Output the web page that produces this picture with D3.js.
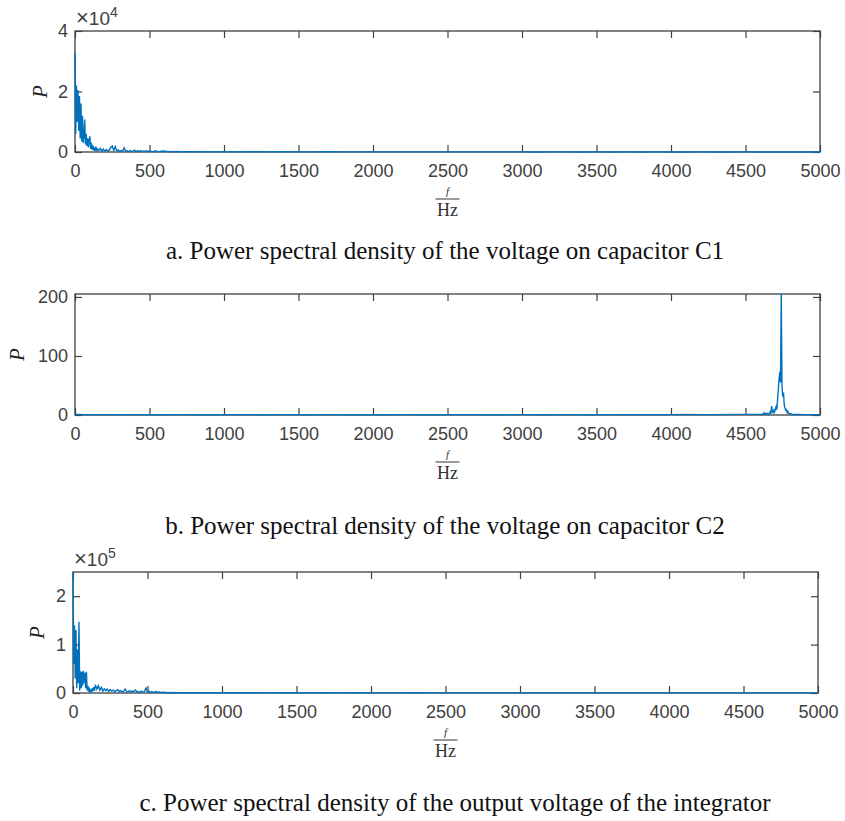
<!DOCTYPE html>
<html>
<head>
<meta charset="utf-8">
<script src="https://cdn.jsdelivr.net/npm/d3@7"></script>
<style>
  body { margin: 0; background: #fff; }
  .tick text { font-family: "Liberation Sans", Arial, sans-serif; font-size: 18px; fill: #404040; }
  .tick line { stroke: #404040; stroke-width: 1.2; }
  .caption { font-family: "Liberation Serif", "Times New Roman", serif; font-size: 25px; fill: #111; }
</style>
</head>
<body>
<svg id="fig" width="845" height="821"></svg>
<script>
// x ticks shared by all three panels
const freqTicks = [0, 500, 1000, 1500, 2000, 2500, 3000, 3500, 4000, 4500, 5000];

// a. voltage on C1, values in units of 1e4
// low band: 0..150 Hz every 5 Hz
const c1Low = [3.27, 0.6, 2.2, 1.0, 2.05, 0.7, 1.85, 0.45, 1.6, 0.35, 1.2, 0.3, 0.55, 1.07, 0.25, 0.6,
  0.2, 0.45, 0.15, 0.4, 0.52, 0.1, 0.3, 0.08, 0.22, 0.05, 0.15, 0.04, 0.18, 0.03, 0.1];
// mid band: 160..700 Hz every 10 Hz
const c1Mid = [0.05, 0.12, 0.03, 0.1, 0.02, 0.08, 0.03, 0.06, 0.15, 0.2, 0.05, 0.18, 0.04, 0.07, 0.02,
  0.05, 0.03, 0.14, 0.02, 0.04, 0.01, 0.05, 0.02, 0.03, 0.06, 0.01, 0.04, 0.02, 0.05, 0.01, 0.03, 0.02,
  0.04, 0.01, 0.03, 0.02, 0.01, 0.02, 0.05, 0.01, 0.02, 0.01, 0.03, 0.01, 0.04, 0.01, 0.02, 0.01, 0.01,
  0.02, 0.01, 0.01, 0.02, 0.01, 0.01];
// tail: 800..5000 Hz every 100 Hz
const c1Tail = [0.01, 0.005, 0.01, 0.005, 0.008, 0.005, 0.006, 0.004, 0.005, 0.006, 0.004, 0.005, 0.003,
  0.005, 0.004, 0.003, 0.005, 0.004, 0.003, 0.004, 0.003, 0.004, 0.003, 0.002, 0.004, 0.003, 0.002, 0.003,
  0.002, 0.003, 0.002, 0.003, 0.002, 0.002, 0.003, 0.002, 0.002, 0.003, 0.002, 0.002, 0.002, 0.002, 0.002];

// b. voltage on C2, raw values
// 0..4500 Hz every 100 Hz
const c2Base = [0.8, 0.5, 0.6, 0.4, 0.7, 0.5, 0.4, 0.6, 0.5, 0.4, 0.5, 0.6, 0.4, 0.5, 0.7, 0.4, 0.5,
  0.6, 0.4, 0.5, 0.5, 0.4, 0.6, 0.5, 0.4, 0.5, 0.6, 0.4, 0.5, 0.5, 0.6, 0.4, 0.5, 0.6, 0.5, 0.4, 0.6,
  0.5, 0.7, 0.5, 0.6, 0.8, 0.6, 0.7, 0.9, 1.0];
// 4600..4820 Hz every 5 Hz (resonance around 4740 Hz)
const c2Peak = [1, 0.5, 1.5, 0.8, 2, 4, 1, 2, 1.5, 3, 2, 1, 3, 5, 2, 15, 6, 4, 8, 5, 10, 14, 9, 25, 42,
  60, 73, 55, 205, 48, 31, 38, 17, 12, 8, 9, 4, 6, 3, 2, 2.5, 1, 1.5, 0.5, 1];
// 4850..5000 Hz every 50 Hz
const c2Tail = [0.8, 0.6, 0.5, 0.5];

// c. integrator output, values in units of 1e5
const outLow = [2.5, 0.6, 1.4, 0.3, 1.3, 0.1, 0.9, 0.2, 1.47, 0.05, 0.45, 0.1, 0.44, 0.15, 0.46, 0.2,
  0.42, 0.1, 0.44, 0.05, 0.15, 0.03, 0.08, 0.02, 0.06, 0.03, 0.1, 0.04, 0.12, 0.05, 0.17];
const outMid = [0.08, 0.15, 0.06, 0.12, 0.04, 0.09, 0.05, 0.08, 0.03, 0.07, 0.04, 0.06, 0.03, 0.05, 0.07,
  0.03, 0.05, 0.02, 0.04, 0.08, 0.02, 0.03, 0.05, 0.02, 0.04, 0.03, 0.06, 0.02, 0.03, 0.01, 0.04, 0.02,
  0.03, 0.1, 0.02, 0.04, 0.01, 0.03, 0.01, 0.02, 0.03, 0.01, 0.02, 0.01, 0.01, 0.02, 0.005, 0.01, 0.005,
  0.01, 0.005, 0.01, 0.005, 0.01, 0.005];
const outTail = [0.006, 0.004, 0.005, 0.004, 0.005, 0.003, 0.004, 0.005, 0.003, 0.004, 0.003, 0.004,
  0.003, 0.002, 0.003, 0.004, 0.002, 0.003, 0.002, 0.003, 0.002, 0.003, 0.002, 0.002, 0.003, 0.002, 0.002,
  0.003, 0.002, 0.002, 0.002, 0.003, 0.002, 0.002, 0.002, 0.002, 0.002, 0.002, 0.002, 0.002, 0.002, 0.002, 0.002];

const captions = [
  'a. Power spectral density of the voltage on capacitor C1',
  'b. Power spectral density of the voltage on capacitor C2',
  'c. Power spectral density of the output voltage of the integrator'
];

// spectrum bins: each segment is sampled at a fixed spacing from its start frequency
function bins(segments) {
  let out = [];
  segments.forEach(s => s.values.forEach((v, i) => out.push({f: s.start + i * s.step, p: v})));
  return out;
}

class PsdChart {
  constructor(_config, _data) {
    this.config = {
      parent: _config.parent,
      left: _config.left, right: _config.right,
      top: _config.top, bottom: _config.bottom,
      yMax: _config.yMax,
      yTicks: _config.yTicks,
      exponent: _config.exponent || null,
      pLabelX: _config.pLabelX,
      caption: _config.caption,
      captionX: _config.captionX,
      captionY: _config.captionY
    };
    this.data = _data;
    this.initVis();
  }

  initVis() {
    let vis = this;
    let c = vis.config;
    vis.width = c.right - c.left;
    vis.height = c.bottom - c.top;

    vis.g = c.parent.append('g').attr('transform', `translate(${c.left},${c.top})`);

    vis.xScale = d3.scaleLinear().domain([0, 5000]).range([0, vis.width]);
    vis.yScale = d3.scaleLinear().domain([0, c.yMax]).range([vis.height, 0]);

    const plain = d => String(d);

    // inward ticks on all four sides, like a matlab box
    vis.g.append('g').attr('transform', `translate(0,${vis.height})`)
      .call(d3.axisBottom(vis.xScale).tickValues(freqTicks).tickFormat(plain)
        .tickSizeInner(-7).tickSizeOuter(0).tickPadding(16))
      .call(g => g.select('.domain').remove())
      .call(g => g.selectAll('text').attr('dy', '0.5em'));
    vis.g.append('g')
      .call(d3.axisTop(vis.xScale).tickValues(freqTicks).tickSizeInner(-7).tickSizeOuter(0).tickFormat(''))
      .call(g => g.select('.domain').remove());
    vis.g.append('g')
      .call(d3.axisLeft(vis.yScale).tickValues(c.yTicks).tickFormat(plain)
        .tickSizeInner(-7).tickSizeOuter(0).tickPadding(7))
      .call(g => g.select('.domain').remove());
    vis.g.append('g').attr('transform', `translate(${vis.width},0)`)
      .call(d3.axisRight(vis.yScale).tickValues(c.yTicks).tickSizeInner(-7).tickSizeOuter(0).tickFormat(''))
      .call(g => g.select('.domain').remove());

    vis.g.append('rect')
      .attr('width', vis.width).attr('height', vis.height)
      .attr('fill', 'none').attr('stroke', '#404040').attr('stroke-width', 1.3);

    if (c.exponent) {
      let t = vis.g.append('text')
        .attr('x', 1).attr('y', -6)
        .attr('font-family', '"Liberation Sans", Arial, sans-serif')
        .attr('font-size', 19).attr('fill', '#404040');
      t.append('tspan').attr('font-size', 22).text('\u00d7');
      t.append('tspan').text('10');
      t.append('tspan').attr('dy', -8).attr('font-size', 14).text(c.exponent);
    }

    // y label
    vis.g.append('text')
      .attr('transform', `translate(${c.pLabelX - c.left},${vis.height / 2}) rotate(-90)`)
      .attr('text-anchor', 'middle').attr('dy', '0.35em')
      .attr('font-family', '"Liberation Serif", "Times New Roman", serif')
      .attr('font-style', 'italic').attr('font-size', 21).attr('fill', '#222')
      .text('P');

    // x label: f over Hz
    let xl = vis.g.append('g').attr('transform', `translate(${vis.width / 2},${vis.height + 47})`);
    xl.append('text').attr('y', -4).attr('text-anchor', 'middle')
      .attr('font-family', '"Liberation Serif", "Times New Roman", serif')
      .attr('font-style', 'italic').attr('font-size', 11).attr('fill', '#333').text('f');
    xl.append('line').attr('x1', -12).attr('x2', 12)
      .attr('stroke', '#333').attr('stroke-width', 1);
    xl.append('text').attr('y', 17).attr('text-anchor', 'middle')
      .attr('font-family', '"Liberation Serif", "Times New Roman", serif')
      .attr('font-size', 18).attr('fill', '#333').text('Hz');

    c.parent.append('text').attr('class', 'caption')
      .attr('x', c.captionX).attr('y', c.captionY)
      .attr('text-anchor', 'middle').text(c.caption);

    vis.clipId = 'clip' + Math.round(c.top);
    vis.g.append('clipPath').attr('id', vis.clipId)
      .append('rect').attr('x', -1).attr('y', -1).attr('width', vis.width + 2).attr('height', vis.height + 2);

    vis.updateVis();
  }

  updateVis() {
    let vis = this;
    let line = d3.line().x(d => vis.xScale(d.f)).y(d => vis.yScale(d.p));
    vis.g.append('path')
      .datum(vis.data)
      .attr('clip-path', `url(#${vis.clipId})`)
      .attr('fill', 'none')
      .attr('stroke', '#0072BD')
      .attr('stroke-width', 1.4)
      .attr('d', line);
  }
}

const svg = d3.select('#fig');

new PsdChart({
  parent: svg, left: 75, right: 820, top: 31, bottom: 152,
  yMax: 4, yTicks: [0, 2, 4], exponent: '4', pLabelX: 40,
  caption: captions[0], captionX: 445, captionY: 259
}, bins([{start: 0, step: 5, values: c1Low}, {start: 160, step: 10, values: c1Mid}, {start: 800, step: 100, values: c1Tail}]));

new PsdChart({
  parent: svg, left: 75, right: 820, top: 294, bottom: 415,
  yMax: 205, yTicks: [0, 100, 200], pLabelX: 17,
  caption: captions[1], captionX: 445, captionY: 534
}, bins([{start: 0, step: 100, values: c2Base}, {start: 4600, step: 5, values: c2Peak}, {start: 4850, step: 50, values: c2Tail}]));

new PsdChart({
  parent: svg, left: 73, right: 818, top: 572, bottom: 693,
  yMax: 2.5, yTicks: [0, 1, 2], exponent: '5', pLabelX: 37,
  caption: captions[2], captionX: 455, captionY: 811
}, bins([{start: 0, step: 5, values: outLow}, {start: 160, step: 10, values: outMid}, {start: 800, step: 100, values: outTail}]));
</script>
</body>
</html>
